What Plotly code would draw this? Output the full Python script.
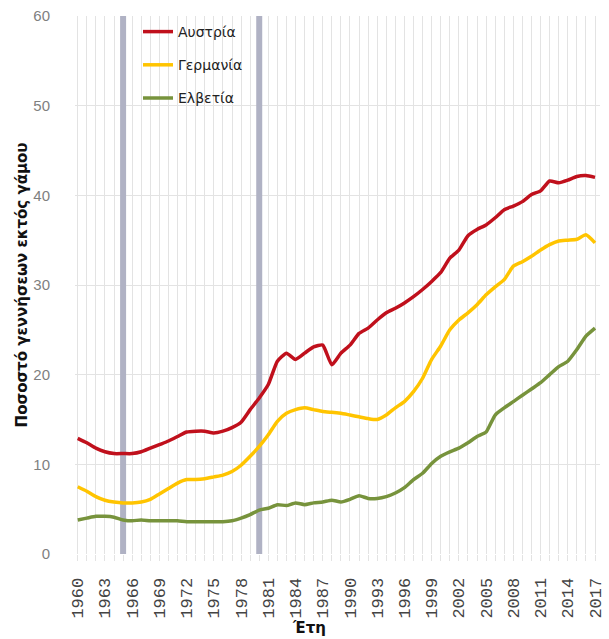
import plotly.graph_objects as go

years = list(range(1960, 2018))

austria = [12.9, 12.4, 11.8, 11.4, 11.2, 11.2, 11.2, 11.4, 11.8, 12.2,
           12.6, 13.1, 13.6, 13.7, 13.7, 13.5, 13.7, 14.1, 14.7, 16.1,
           17.4, 18.9, 21.5, 22.4, 21.7, 22.4, 23.1, 23.3, 21.1, 22.4,
           23.3, 24.6, 25.2, 26.1, 26.9, 27.4, 28.0, 28.7, 29.5, 30.4,
           31.4, 33.0, 33.9, 35.5, 36.2, 36.7, 37.5, 38.4, 38.8, 39.3,
           40.1, 40.5, 41.6, 41.4, 41.7, 42.1, 42.2, 42.0]
germany = [7.5, 7.0, 6.4, 6.0, 5.8, 5.7, 5.7, 5.8, 6.1, 6.7,
           7.3, 7.9, 8.3, 8.3, 8.4, 8.6, 8.8, 9.2, 9.9, 10.9,
           12.0, 13.3, 14.8, 15.7, 16.1, 16.3, 16.1, 15.9, 15.8, 15.7,
           15.5, 15.3, 15.1, 15.0, 15.5, 16.3, 17.0, 18.1, 19.6, 21.7,
           23.2, 25.0, 26.1, 26.9, 27.8, 28.9, 29.8, 30.6, 32.1, 32.6,
           33.2, 33.9, 34.5, 34.9, 35.0, 35.1, 35.6, 34.7]
switzerland = [3.8, 4.0, 4.2, 4.2, 4.1, 3.8, 3.7, 3.8, 3.7, 3.7,
               3.7, 3.7, 3.6, 3.6, 3.6, 3.6, 3.6, 3.7, 4.0, 4.4,
               4.9, 5.1, 5.5, 5.4, 5.7, 5.5, 5.7, 5.8, 6.0, 5.8,
               6.1, 6.5, 6.2, 6.2, 6.4, 6.8, 7.4, 8.3, 9.0, 10.1,
               10.9, 11.4, 11.8, 12.4, 13.1, 13.6, 15.5, 16.3, 17.0, 17.7,
               18.4, 19.1, 20.0, 20.9, 21.5, 22.8, 24.3, 25.2]

series = [
    ("Αυστρία", austria, "#c0101c"),
    ("Γερμανία", germany, "#ffc400"),
    ("Ελβετία", switzerland, "#77933c"),
]
marked_years = [1965, 1980]
y_range = [0, 60]
x_ticks = list(range(1960, 2018, 3))

fig = go.Figure()
# grey marker bands, drawn as traces so they sit above the grid but under the lines
for yr in marked_years:
    fig.add_trace(go.Scatter(
        x=[yr, yr], y=y_range, mode="lines", showlegend=False, hoverinfo="skip",
        line={"color": "#b0b2c4", "width": 6},
    ))
for name, values, colour in series:
    fig.add_trace(go.Scatter(
        x=years, y=values, name=name, mode="lines", legendgroup=name,
        line={"color": colour, "width": 3.5, "shape": "spline", "smoothing": 0.5},
    ))

grid = "#e3e3e3"
fig.update_layout(
    width=609, height=639,
    margin={"l": 75, "r": 9, "t": 16, "b": 85},
    plot_bgcolor="white", paper_bgcolor="white",
    font={"family": "Liberation Sans", "size": 14, "color": "#222"},
    showlegend=True,
    legend={
        "x": 0.12, "y": 1.0, "xanchor": "left", "yanchor": "top",
        "bgcolor": "rgba(0,0,0,0)", "tracegroupgap": 12,
        "font": {"family": "DejaVu Sans", "size": 14, "color": "#222"},
    },
    xaxis={
        "range": [1959.7, 2017.55], "tickvals": x_ticks, "tickangle": -90,
        "tickfont": {"family": "Liberation Mono", "size": 17, "color": "#444"},
        "showgrid": True, "gridcolor": grid, "zeroline": False,
        "ticks": "outside", "ticklen": 6, "tickcolor": grid,
        "minor": {"dtick": 1, "showgrid": True, "gridcolor": grid,
                  "ticks": "outside", "ticklen": 6, "tickcolor": grid},
        "ticklabelstandoff": 10, "ticklabeloverflow": "allow",
        "automargin": False,
    },
    yaxis={
        "range": y_range, "dtick": 10, "showgrid": True, "gridcolor": grid,
        "zeroline": False, "showline": False,
        "tickfont": {"family": "Liberation Sans", "size": 15, "color": "#7f7f7f"},
        "ticklabelstandoff": 24, "ticklabeloverflow": "allow",
        "automargin": False,
        "title": {"text": "<b>Ποσοστό γεννήσεων εκτός γάμου</b>",
                  "font": {"family": "DejaVu Sans", "size": 15, "color": "#111"},
                  "standoff": 2},
    },
)
fig.add_annotation(
    text="<b>Έτη</b>", xref="paper", yref="paper", x=0.446, y=-0.1375,
    xanchor="center", yanchor="middle", showarrow=False,
    font={"family": "DejaVu Sans", "size": 15, "color": "#111"},
)

# drop the default 8px body margin so the figure fills the window exactly
fig.write_html(
    "out.html",
    config={"displayModeBar": False},
    post_script="document.body.style.margin = '0';",
)
